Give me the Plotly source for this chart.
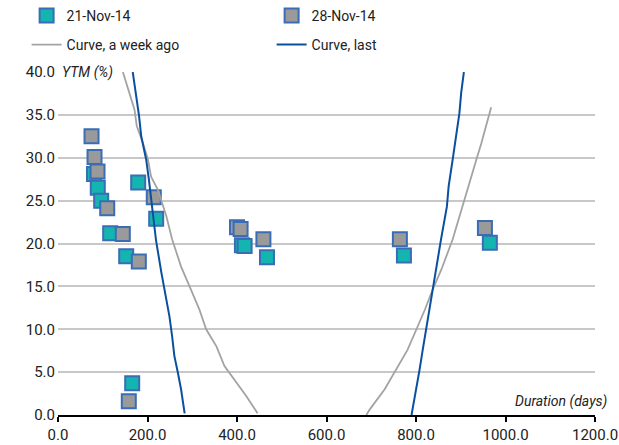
import plotly.graph_objects as go

# ---- data ----
nov21_dur = [80.4, 88.9, 96.5, 116.6, 152.4, 179.2, 219.4, 165.8, 411, 417, 467, 773, 965]
nov21_ytm = [28.1, 26.5, 25.0, 21.2, 18.5, 27.1, 22.9, 3.7, 19.8, 19.7, 18.4, 18.6, 20.1]

nov28_dur = [74.9, 81.6, 88.3, 110.0, 144.8, 180.6, 214.0, 158.2, 400, 408, 459, 764, 954]
nov28_ytm = [32.5, 30.1, 28.4, 24.1, 21.1, 17.9, 25.4, 1.6, 21.9, 21.7, 20.5, 20.5, 21.8]

week_left_dur = [145, 160, 171, 176, 190, 201, 208, 223, 232, 242, 255, 262, 275, 294, 316,
                 331, 354, 372, 398, 421, 446]
week_left_ytm = [40.0, 37.6, 35.6, 33.7, 31.7, 29.8, 27.8, 26.3, 24.8, 23.2, 20.5, 19.3, 17.3,
                 15.0, 12.3, 10.0, 8.0, 5.7, 3.8, 2.2, 0.2]
week_right_dur = [689, 696, 730, 756, 781, 801, 820, 837, 857, 882, 897, 908, 920, 935, 946, 957, 968]
week_right_ytm = [0.0, 0.6, 3.0, 5.3, 7.6, 10.0, 12.3, 14.6, 17.0, 20.5, 23.2, 25.1, 27.4, 29.8,
                  31.7, 33.7, 35.9]

last_left_dur = [167, 174, 181, 186, 197, 203, 208, 213, 219, 231, 240, 249, 255, 260, 268, 275, 283]
last_left_ytm = [40.0, 37.5, 34.9, 32.5, 29.8, 27.5, 25.1, 22.7, 20.4, 16.6, 14.0, 11.5, 9.2,
                 6.9, 4.9, 3.0, 0.2]
last_right_dur = [790, 801, 808, 815, 824, 833, 845, 856, 869, 873, 882, 890, 897, 901, 907]
last_right_ytm = [0.0, 3.0, 5.3, 7.6, 10.5, 13.5, 17.0, 20.5, 24.3, 26.7, 29.8, 32.5, 35.2, 37.6, 40.0]

x_ticks = [0, 200, 400, 600, 800, 1000, 1200]
y_ticks = [0, 5, 10, 15, 20, 25, 30, 35, 40]

FONT = "Roboto, Arial, sans-serif"
TXT = "#222222"
EDGE = "#3a6db5"
TEAL = "#14b5b0"
GREY = "#9a9a9a"

fig = go.Figure()

fig.add_trace(go.Scatter(
    x=nov21_dur, y=nov21_ytm, mode="markers", name="21-Nov-14",
    marker=dict(symbol="square", size=14, color=TEAL, line=dict(color=EDGE, width=2)),
    legend="legend"))
fig.add_trace(go.Scatter(
    x=nov28_dur, y=nov28_ytm, mode="markers", name="28-Nov-14",
    marker=dict(symbol="square", size=14, color=GREY, line=dict(color=EDGE, width=2)),
    legend="legend"))

fig.add_trace(go.Scatter(
    x=week_left_dur + [None] + week_right_dur,
    y=week_left_ytm + [None] + week_right_ytm,
    mode="lines", name="Curve, a week ago", connectgaps=False,
    line=dict(color="#a3a3a3", width=1.8), legend="legend2"))
fig.add_trace(go.Scatter(
    x=last_left_dur + [None] + last_right_dur,
    y=last_left_ytm + [None] + last_right_ytm,
    mode="lines", name="Curve, last", connectgaps=False,
    line=dict(color="#0b4f9f", width=2), legend="legend2"))

legend_common = dict(orientation="h", entrywidth=200, entrywidthmode="pixels",
                     font=dict(family=FONT, size=14, color=TXT),
                     xref="container", yref="container", xanchor="left", yanchor="middle",
                     bgcolor="rgba(0,0,0,0)", itemclick=False, itemdoubleclick=False)

fig.update_layout(
    width=619, height=445,
    margin=dict(l=58, r=24, t=72, b=30, autoexpand=False),
    paper_bgcolor="white", plot_bgcolor="white",
    font=dict(family=FONT, size=15, color=TXT),
    legend=dict(x=0.043, y=1 - 16 / 445, **legend_common),
    legend2=dict(x=0.043, y=1 - 45 / 445, **legend_common),
    xaxis=dict(range=[0, 1200], tickvals=x_ticks, ticktext=[f"{v:.1f}" for v in x_ticks],
               showgrid=False, zeroline=False, showline=True, linecolor="black", linewidth=1.5,
               ticks="outside", ticklen=5, tickcolor="black", tickwidth=1.5,
               tickfont=dict(family=FONT, size=15, color=TXT), fixedrange=True),
    yaxis=dict(range=[0, 40], tickvals=y_ticks, ticktext=[f"{v:.1f}" for v in y_ticks],
               showgrid=True, gridcolor="#c8c8c8", gridwidth=2, zeroline=False, showline=False,
               ticks="", ticklabelstandoff=2,
               tickfont=dict(family=FONT, size=15, color=TXT), fixedrange=True),
    annotations=[
        dict(text="<i>YTM (%)</i>", xref="paper", yref="paper", x=0.003, y=1.0,
             xanchor="left", yanchor="middle", showarrow=False, bgcolor="white",
             font=dict(family=FONT, size=14, color=TXT)),
        dict(text="<i>Duration (days)</i>", xref="paper", yref="paper", x=1.027, y=0.04,
             xanchor="right", yanchor="middle", showarrow=False,
             font=dict(family=FONT, size=14, color=TXT)),
    ],
)

fig.write_html("out.html", config={"displayModeBar": False},
               post_script="document.body.style.margin='0';")
